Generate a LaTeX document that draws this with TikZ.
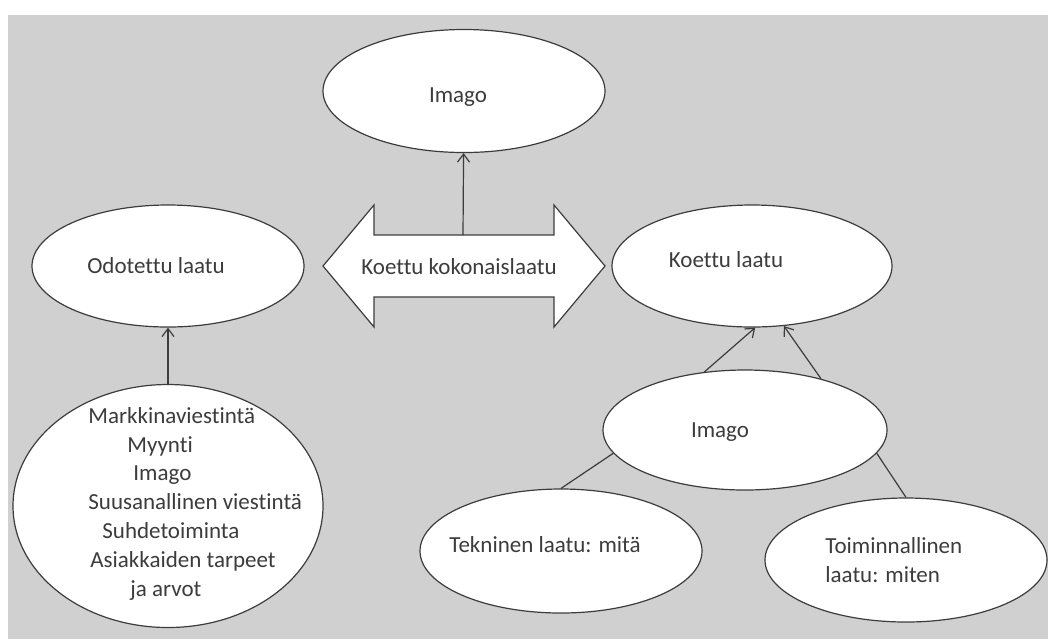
\documentclass[tikz,border=0pt]{standalone}
\usepackage{fontspec}
\setmainfont{Carlito}[Ligatures=CommonOff]
\usepackage{tikz}
\usetikzlibrary{positioning,arrows.meta,shapes.geometric}
\definecolor{ink}{HTML}{3C3C3C}
\definecolor{paper}{HTML}{D0D0D0}
\tikzset{
  oval/.style={ellipse, draw=ink, fill=white, line width=0.6pt, inner sep=0pt},
  txt/.style={font=\fontsize{11.5}{14.4}\selectfont, text=ink, inner sep=0pt, anchor=base},
  link/.style={draw=ink, line width=0.6pt},
  arr/.style={link, -{Straight Barb[length=4pt,width=6pt]}},
}
\begin{document}
\begin{tikzpicture}[x=0.5pt, y=-0.5pt]
\useasboundingbox (0,0) rectangle (1048,639);
\fill[paper] (8,15) rectangle (1048,639);
% ovals
\node[oval, minimum width=141pt, minimum height=61.5pt] (imagoTop) at (464,91) {};
\node[oval, minimum width=136pt, minimum height=61pt] (odo) at (168,266) {};
\node[oval, minimum width=155pt, minimum height=121.5pt] (bl) at (168,506) {};
\node[oval, minimum width=140pt, minimum height=61pt] (koettu) at (752,266) {};
\node[oval, minimum width=142pt, minimum height=60pt] (imagoR) at (745,430) {};
\node[oval, minimum width=141pt, minimum height=62pt] (tek) at (561,551) {};
\node[oval, minimum width=141pt, minimum height=62pt] (toim) at (906,560) {};
% double arrow
\draw[ink, fill=white, line width=0.6pt, line join=miter]
  (323,266) -- (374,205) -- (374,235) -- (554,235) -- (554,205) -- (605,266)
  -- (554,327) -- (554,297) -- (374,297) -- (374,327) -- cycle;
\coordinate (shaftTop) at (463,235);
% texts (multi-line: base = last line)
\node[txt] (imagoTopT) at (458,102) {Imago};
\node[txt] (odoT) at (156,273) {Odotettu laatu};
\node[txt] (kokT) at (459,274) {Koettu kokonaislaatu};
\node[txt] (koettuT) at (726,267) {Koettu laatu};
\node[txt] (imagoRT) at (720,437) {Imago};
\node[txt] (tekT) at (545,552) {Tekninen laatu: mitä};
\node[txt, anchor=base west, align=left] (toimT) at (825,582) {Toiminnallinen\\laatu: miten};
\node[txt, anchor=base west, align=left] (blT) at (88,596)
  {Markkinaviestintä\\
   \hspace*{19.5pt}Myynti\\
   \hspace*{22.5pt}Imago\\
   Suusanallinen viestintä\\
   \hspace*{7pt}Suhdetoiminta\\
   \hspace*{1pt}Asiakkaiden tarpeet\\
   \hspace*{21pt}ja arvot};
% connectors
\draw[arr] (bl) -- (odo);
\draw[arr] (shaftTop) -- (imagoTop);
\draw[arr] (imagoR.125) -- (koettu.-87);
\draw[arr] (imagoR.34) -- (koettu.-62);
\draw[link] (tek.north) -- (imagoR.190);
\draw[link] (toim.north) -- (imagoR.-10);
\end{tikzpicture}
\end{document}
